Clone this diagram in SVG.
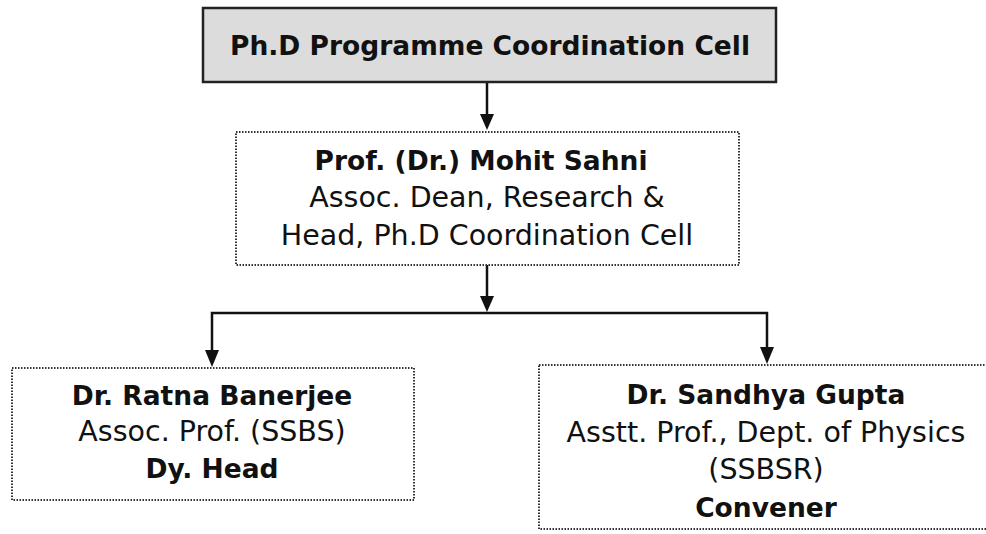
<svg xmlns="http://www.w3.org/2000/svg" width="986" height="534" viewBox="0 0 986 534">
<style>
.t{font-family:"DejaVu Sans","Noto Sans",sans-serif;fill:#111;text-anchor:middle;font-size:28.5px}
.b{font-weight:bold;font-size:26.5px}
.dot{fill:#fff;stroke:#333;stroke-width:2;stroke-dasharray:1.5 1.5}
.ln{stroke:#111;stroke-width:2.5;fill:none}
.ah{fill:#111}
</style>
<rect width="986" height="534" fill="#fff"/>
<g id="connectors">
<line class="ln" x1="487" y1="83" x2="487" y2="118"/>
<path class="ah" d="M480,114 L494,114 L487,130 Z"/>
<line class="ln" x1="487" y1="265" x2="487" y2="300"/>
<path class="ah" d="M480,296 L494,296 L487,312 Z"/>
<path class="ln" d="M212,354 L212,313 L767,313 L767,350"/>
<path class="ah" d="M205,350 L219,350 L212,367 Z"/>
<path class="ah" d="M760,347 L774,347 L767,364 Z"/>
</g>
<g id="top">
<rect x="203" y="8" width="573" height="74" fill="#dcdcdc" stroke="#222" stroke-width="2.5"/>
<text class="t b" x="490" y="55">Ph.D Programme Coordination Cell</text>
</g>
<g id="mid">
<rect class="dot" x="236" y="132" width="503" height="133"/>
<text class="t b" x="481" y="170">Prof. (Dr.) Mohit Sahni</text>
<text class="t" x="487" y="207">Assoc. Dean, Research &amp;</text>
<text class="t" x="487" y="245">Head, Ph.D Coordination Cell</text>
</g>
<g id="left">
<rect class="dot" x="12" y="368" width="402" height="132"/>
<text class="t b" x="212" y="405">Dr. Ratna Banerjee</text>
<text class="t" x="212" y="441">Assoc. Prof. (SSBS)</text>
<text class="t b" x="212" y="478">Dy. Head</text>
</g>
<g id="right">
<rect class="dot" x="539" y="365" width="455" height="164"/>
<text class="t b" x="766" y="404">Dr. Sandhya Gupta</text>
<text class="t" x="766" y="442">Asstt. Prof., Dept. of Physics</text>
<text class="t" x="766" y="479">(SSBSR)</text>
<text class="t b" x="766" y="517">Convener</text>
</g>
</svg>
